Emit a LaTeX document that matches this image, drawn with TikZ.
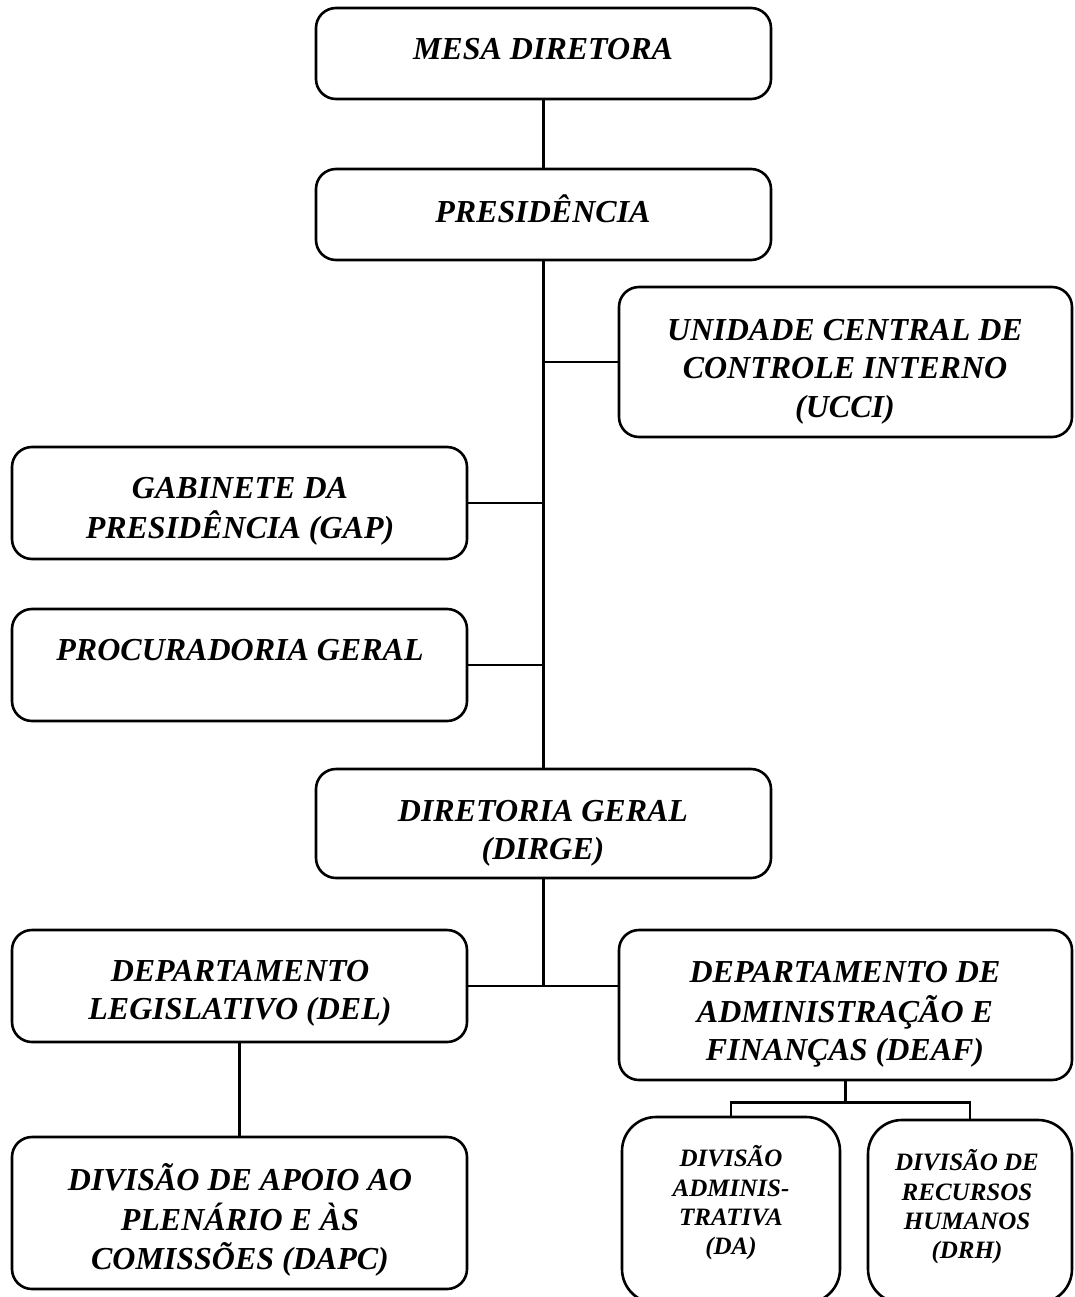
\documentclass[tikz,border=0pt]{standalone}
\usepackage{fontspec}
\setmainfont{Liberation Serif}
\begin{document}
\begin{tikzpicture}[x=1pt,y=-1pt,
  box/.style={draw=black,line width=2.6pt,rounded corners=20pt,inner sep=0pt,fill=white},
  bigbox/.style={box,rounded corners=34pt},
  lbl/.style={align=center,inner sep=0pt,font=\fontsize{32}{38.5}\selectfont\bfseries\itshape},
  slbl/.style={align=center,inner sep=0pt,font=\fontsize{25}{29.3}\selectfont\bfseries\itshape},
  conn/.style={line width=2.6pt}]
\useasboundingbox (0,0) rectangle (1074,1297);
\clip (0,0) rectangle (1074,1297);
\fill[white] (0,0) rectangle (1074,1297);
% boxes
\node[box,minimum width=455pt,minimum height=91pt] (mesa) at (543.5,53.5) {};
\node[box,minimum width=455pt,minimum height=91pt] (pres) at (543.5,214.5) {};
\node[box,minimum width=453pt,minimum height=150pt] (ucci) at (845.5,362) {};
\node[box,minimum width=455pt,minimum height=112pt] (gab) at (239.5,503) {};
\node[box,minimum width=455pt,minimum height=112pt] (proc) at (239.5,665) {};
\node[box,minimum width=455pt,minimum height=109pt] (dirge) at (543.5,823.5) {};
\node[box,minimum width=455pt,minimum height=112pt] (del) at (239.5,986) {};
\node[box,minimum width=453pt,minimum height=150pt] (deaf) at (845.5,1005) {};
\node[box,minimum width=455pt,minimum height=152pt] (dapc) at (239.5,1213) {};
\node[bigbox,minimum width=218pt,minimum height=186pt] (da) at (731,1210) {};
\node[bigbox,minimum width=204pt,minimum height=183pt] (drh) at (970,1211.5) {};
% labels
\node[lbl] (tmesa) at (543,52) {\strut MESA DIRETORA};
\node[lbl] (tpres) at (543,214) {\strut PRESIDÊNCIA};
\node[lbl] (tucci) at (845,371) {\strut UNIDADE CENTRAL DE\\CONTROLE INTERNO\\\strut (UCCI)};
\node[lbl] (tgab) at (240,511) {\strut GABINETE DA\\\strut PRESIDÊNCIA (GAP)};
\node[lbl] (tproc) at (240,653) {\strut PROCURADORIA GERAL};
\node[lbl] (tdirge) at (543,833) {\strut DIRETORIA GERAL\\\strut (DIRGE)};
\node[lbl] (tdel) at (240,993) {\strut DEPARTAMENTO\\\strut LEGISLATIVO (DEL)};
\node[lbl] (tdeaf) at (845,1014) {\strut DEPARTAMENTO DE\\ADMINISTRAÇÃO E\\\strut FINANÇAS (DEAF)};
\node[lbl] (tdapc) at (240,1222) {\strut DIVISÃO DE APOIO AO\\PLENÁRIO E ÀS\\\strut COMISSÕES (DAPC)};
\node[slbl] (tda) at (731,1204.5) {\strut DIVISÃO\\ADMINIS-\\TRATIVA\\\strut (DA)};
\node[slbl] (tdrh) at (967,1208.5) {\strut DIVISÃO DE\\RECURSOS\\HUMANOS\\\strut (DRH)};
% connectors
\draw[conn] (mesa.south) -- (pres.north);
\draw[conn] (pres.south) -- (dirge.north);
\draw[conn] (ucci.west) -- (ucci.west -| pres.south);
\draw[conn] (gab.east) -- (gab.east -| pres.south);
\draw[conn] (proc.east) -- (proc.east -| pres.south);
\draw[conn] (dirge.south) -- (del.east -| dirge.south);
\draw[conn] (del.east) -- (del.east -| deaf.west);
\draw[conn] (del.south) -- (dapc.north);
\draw[conn] (deaf.south) -- ++(0,21) coordinate (split);
\draw[conn] (da.north) |- (split) -| (drh.north);
\end{tikzpicture}
\end{document}
